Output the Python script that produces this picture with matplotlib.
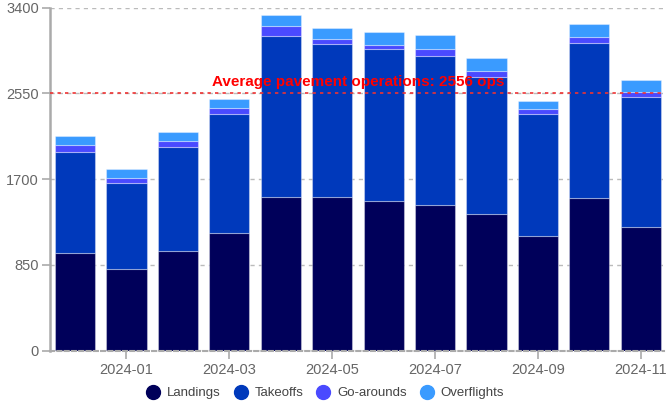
import matplotlib
matplotlib.use("Agg")
import matplotlib.pyplot as plt
from matplotlib.lines import Line2D
import numpy as np

plt.rcParams['font.family'] = ['Liberation Sans', 'DejaVu Sans']

# monthly operations
months = ["2023-12", "2024-01", "2024-02", "2024-03", "2024-04", "2024-05",
          "2024-06", "2024-07", "2024-08", "2024-09", "2024-10", "2024-11"]
landings = [971, 806, 988, 1160, 1521, 1521, 1481, 1438, 1352, 1137, 1507, 1229]
takeoffs = [1001, 856, 1031, 1180, 1596, 1521, 1504, 1481, 1358, 1203, 1545, 1285]
go_arounds = [67, 46, 53, 62, 99, 42, 43, 73, 60, 49, 59, 49]
overflights = [85, 93, 92, 87, 107, 116, 129, 139, 132, 87, 129, 119]

series_names = ["Landings", "Takeoffs", "Go-arounds", "Overflights"]
colors = ["#00005a", "#0039bb", "#4a4aff", "#3a9bff"]
y_ticks = [0, 850, 1700, 2550, 3400]

fig = plt.figure(figsize=(6.67, 4.05), dpi=100)
ax = fig.add_axes([50 / 667, 54.5 / 405, 614 / 667, 343 / 405])

x = np.arange(len(months))
bottom = np.zeros(len(months))
for name, vals, col in zip(series_names, [landings, takeoffs, go_arounds, overflights], colors):
    ax.bar(x, vals, width=0.78, bottom=bottom, color=col,
           edgecolor=(1, 1, 1, 0.35), linewidth=0.8, zorder=2, label=name)
    bottom += np.array(vals)

# average of pavement ops (landings + takeoffs)
avg = np.mean(np.array(landings) + np.array(takeoffs))
ax.axhline(avg, color="#ee3333", linestyle=(0, (2, 2.5)), linewidth=1.2, zorder=3)
ax.text((x[0] + x[-1]) / 2, avg + 35, f"Average pavement operations: {avg:.0f} ops",
        color="#ff0000", fontsize=11, fontweight="bold", ha="center", va="bottom", zorder=4)

ax.set_xlim(-0.486, 11.45)
ax.set_ylim(0, 3400)
ax.set_yticks(y_ticks)
ax.set_xticks(x[1::2])
ax.set_xticklabels(months[1::2])

ax.yaxis.grid(True, color="#bbbbbb", linestyle=(0, (3, 3)), linewidth=1, zorder=0)
ax.set_axisbelow(True)
for s in ["top", "right"]:
    ax.spines[s].set_visible(False)
ax.spines["left"].set_color("#aaaaaa")
ax.spines["left"].set_linewidth(1.8)
ax.spines["bottom"].set_color("#aaaaaa")
ax.spines["bottom"].set_linestyle((0, (2, 1.5)))
ax.spines["bottom"].set_linewidth(1.5)
ax.tick_params(axis="both", colors="#aaaaaa", labelcolor="#666666", labelsize=10.5,
               length=6, width=1.2)
ax.tick_params(axis="y", pad=2)
ax.tick_params(axis="x", pad=3)

handles = [Line2D([], [], marker="o", linestyle="none", markersize=10,
                  markerfacecolor=c, markeredgecolor=c) for c in colors]
fig.legend(handles, series_names, loc="lower center", bbox_to_anchor=(0.483, -0.015),
           ncol=4, frameon=False, fontsize=9.5, handletextpad=0.05, columnspacing=0.5,
           labelcolor="#444444")

fig.savefig("out.png", dpi=100)
